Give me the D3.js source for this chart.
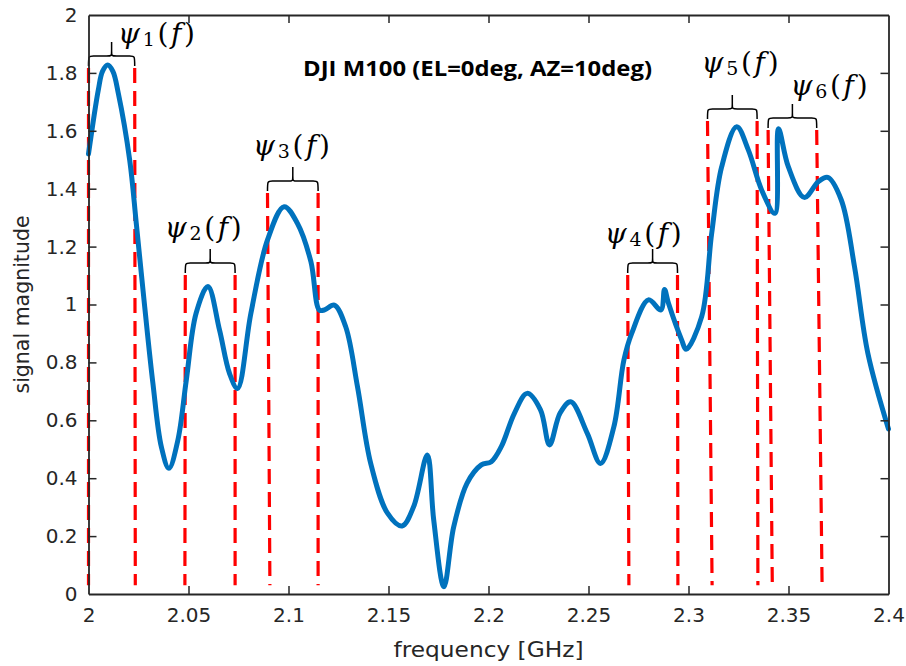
<!DOCTYPE html>
<html>
<head>
<meta charset="utf-8">
<script src="https://cdn.jsdelivr.net/npm/d3@7.9.0/dist/d3.min.js"></script>
<style>
  body { margin: 0; background: #fff; }
  svg { display: block; }
  .tick text { font-family: "DejaVu Sans", sans-serif; font-size: 20px; fill: #262626; }
  .axis-label { font-family: "DejaVu Sans", sans-serif; font-size: 20.5px; fill: #262626; }
  .psi { font-family: "DejaVu Serif", serif; font-size: 28px; fill: #000; }
</style>
</head>
<body>
<svg id="chart" width="906" height="666"></svg>
<script>
// measured spectrum (GHz, magnitude)
const freq = [2.000, 2.0049, 2.0070, 2.0096, 2.0122, 2.0149, 2.0206, 2.0239, 2.0281, 2.0322,
  2.0364, 2.0402, 2.0447, 2.0489, 2.0538, 2.0597, 2.0655, 2.0705, 2.0745, 2.0812,
  2.0895, 2.0978, 2.1045, 2.1112, 2.1154, 2.1179, 2.1229, 2.1286, 2.1345, 2.1411,
  2.1495, 2.1568, 2.1626, 2.1694, 2.1726, 2.1777, 2.1826, 2.1893, 2.1964, 2.2014,
  2.2064, 2.2130, 2.2193, 2.2260, 2.2305, 2.2358, 2.2411, 2.2494, 2.2560, 2.2627,
  2.2677, 2.2716, 2.2800, 2.2862, 2.2880, 2.2900, 2.2966, 2.2988, 2.3066, 2.3116,
  2.3166, 2.3241, 2.3299, 2.3366, 2.3432, 2.3450, 2.3499, 2.3579, 2.3649, 2.3696,
  2.3764, 2.3830, 2.3897, 2.4000];
const mag = [1.52, 1.741, 1.805, 1.827, 1.805, 1.730, 1.499, 1.280, 0.992, 0.728,
  0.509, 0.434, 0.532, 0.739, 0.970, 1.062, 0.912, 0.762, 0.710, 0.970,
  1.223, 1.338, 1.280, 1.148, 0.981, 0.981, 0.998, 0.923, 0.716, 0.451,
  0.279, 0.235, 0.302, 0.480, 0.256, 0.025, 0.232, 0.383, 0.446, 0.457,
  0.509, 0.625, 0.693, 0.636, 0.515, 0.625, 0.664, 0.555, 0.451, 0.578,
  0.808, 0.900, 1.016, 0.981, 1.052, 1.004, 0.877, 0.845, 0.958, 1.246,
  1.476, 1.614, 1.534, 1.395, 1.315, 1.607, 1.476, 1.370, 1.424, 1.439,
  1.361, 1.131, 0.831, 0.570];

// red dashed band edges: frequency at top and at bottom, top value
const edgeTopF = [2.0, 2.0231, 2.0484, 2.0733, 2.0895, 2.1148, 2.2696, 2.2945, 2.3095, 2.3343, 2.3398, 2.3641];
const edgeBotF = [2.0, 2.0234, 2.0482, 2.0733, 2.0907, 2.1148, 2.2702, 2.2947, 2.3118, 2.3347, 2.3419, 2.3668];
const edgeTop  = [1.817, 1.817, 1.102, 1.102, 1.385, 1.385, 1.102, 1.102, 1.634, 1.634, 1.603, 1.603];
const edgeBot  = 0.03;

// band labels ψi(f)
const bandIdx = ['1', '2', '3', '4', '5', '6'];
const labelF = [2.034, 2.0574, 2.1015, 2.2774, 2.3258, 2.3703];
const labelV = [1.938, 1.268, 1.551, 1.247, 1.836, 1.758];

const xTicks = [2, 2.05, 2.1, 2.15, 2.2, 2.25, 2.3, 2.35, 2.4];
const yTicks = [0, 0.2, 0.4, 0.6, 0.8, 1, 1.2, 1.4, 1.6, 1.8, 2];

const title = 'DJI M100 (EL=0deg, AZ=10deg)';
const titleF = 2.1945, titleV = 1.82;

const W = 906, H = 666;
const margin = { top: 15, right: 17.5, bottom: 72, left: 88.5 };
const iw = W - margin.left - margin.right;
const ih = H - margin.top - margin.bottom;

const svg = d3.select('#chart');
const g = svg.append('g').attr('transform', `translate(${margin.left},${margin.top})`);

const x = d3.scaleLinear().domain([2, 2.4]).range([0, iw]);
const y = d3.scaleLinear().domain([0, 2]).range([ih, 0]);

// dashed edges
g.append('g').selectAll('line')
  .data(edgeTopF)
  .join('line')
  .attr('x1', (d) => x(d))
  .attr('y1', (d, i) => y(edgeTop[i]))
  .attr('x2', (d, i) => x(edgeBotF[i]))
  .attr('y2', y(edgeBot))
  .attr('stroke', '#ff0000')
  .attr('stroke-width', 3.2)
  .attr('stroke-dasharray', '15 8');

// signal
const pts = freq.map((f, i) => [f, mag[i]]);
const line = d3.line()
  .x((d) => x(d[0]))
  .y((d) => y(d[1]))
  .curve(d3.curveCatmullRom.alpha(0.5));

g.append('path')
  .datum(pts)
  .attr('d', line)
  .attr('fill', 'none')
  .attr('stroke', '#0072bd')
  .attr('stroke-width', 5)
  .attr('stroke-linejoin', 'round')
  .attr('stroke-linecap', 'round');

// braces over each band
function bracePath(xl, xr, yb) {
  const yh = yb - 10;
  const tip = yh - 14;
  const xm = (xl + xr) / 2;
  const r = 5;
  return `M${xl},${yb} C${xl},${yh} ${xl},${yh} ${xl + r},${yh} L${xm - r},${yh} ` +
    `C${xm},${yh} ${xm},${yh} ${xm},${yh - r} L${xm},${tip} ` +
    `M${xm},${yh - r} C${xm},${yh} ${xm},${yh} ${xm + r},${yh} L${xr - r},${yh} ` +
    `C${xr},${yh} ${xr},${yh} ${xr},${yb}`;
}

bandIdx.forEach((b, i) => {
  const xl = x(edgeTopF[2 * i]);
  const xr = x(edgeTopF[2 * i + 1]);
  const yb = y(edgeTop[2 * i]) - 2;
  g.append('path')
    .attr('d', bracePath(xl, xr, yb))
    .attr('fill', 'none')
    .attr('stroke', '#000')
    .attr('stroke-width', 1.5);

  const t = g.append('text')
    .attr('class', 'psi')
    .attr('x', x(labelF[i]))
    .attr('y', y(labelV[i]))
    .attr('text-anchor', 'middle')
    .attr('dominant-baseline', 'central')
    .attr('textLength', 77)
    .attr('lengthAdjust', 'spacing');
  t.append('tspan').attr('font-style', 'italic').text('ψ');
  t.append('tspan').attr('font-size', '19px').attr('dy', 6).text(b);
  t.append('tspan').attr('dy', -6).text('(');
  t.append('tspan').attr('font-style', 'italic').text('f');
  t.append('tspan').text(')');
});

// title
g.append('text')
  .attr('x', x(titleF))
  .attr('y', y(titleV))
  .attr('text-anchor', 'middle')
  .attr('dominant-baseline', 'central')
  .attr('font-family', '"Open Sans", sans-serif')
  .attr('font-weight', 'bold')
  .attr('font-size', 21.5)
  .attr('textLength', 349)
  .attr('lengthAdjust', 'spacingAndGlyphs')
  .attr('fill', '#000')
  .text(title);

// axes, MATLAB box style with inward ticks
const tickLen = 8;
const xAxis = g.append('g').attr('transform', `translate(0,${ih})`)
  .call(d3.axisBottom(x).tickValues(xTicks).tickFormat(d3.format('')).tickSizeInner(-tickLen).tickSizeOuter(0).tickPadding(14));
const xTop = g.append('g')
  .call(d3.axisTop(x).tickValues(xTicks).tickFormat('').tickSizeInner(-tickLen).tickSizeOuter(0));
const yAxis = g.append('g')
  .call(d3.axisLeft(y).tickValues(yTicks).tickFormat(d3.format('')).tickSizeInner(-tickLen).tickSizeOuter(0).tickPadding(11));
const yRight = g.append('g').attr('transform', `translate(${iw},0)`)
  .call(d3.axisRight(y).tickValues(yTicks).tickFormat('').tickSizeInner(-tickLen).tickSizeOuter(0));

[xAxis, xTop, yAxis, yRight].forEach((a) => {
  a.select('.domain').attr('stroke', '#262626').attr('stroke-width', 1.8);
  a.selectAll('.tick line').attr('stroke', '#262626').attr('stroke-width', 1.5);
});
// hide ticks at the box corners
[xTop, xAxis].forEach((a) => a.selectAll('.tick line').filter((d) => d === 2 || d === 2.4).remove());
[yAxis, yRight].forEach((a) => a.selectAll('.tick line').filter((d) => d === 0 || d === 2).remove());

g.append('text')
  .attr('class', 'axis-label')
  .attr('x', iw / 2)
  .attr('y', ih + 56)
  .attr('text-anchor', 'middle')
  .attr('dominant-baseline', 'central')
  .attr('textLength', 190)
  .attr('lengthAdjust', 'spacingAndGlyphs')
  .text('frequency [GHz]');

g.append('text')
  .attr('class', 'axis-label')
  .attr('transform', `translate(${22 - margin.left},${ih / 2}) rotate(-90)`)
  .attr('text-anchor', 'middle')
  .attr('dominant-baseline', 'central')
  .text('signal magnitude');
</script>
</body>
</html>
